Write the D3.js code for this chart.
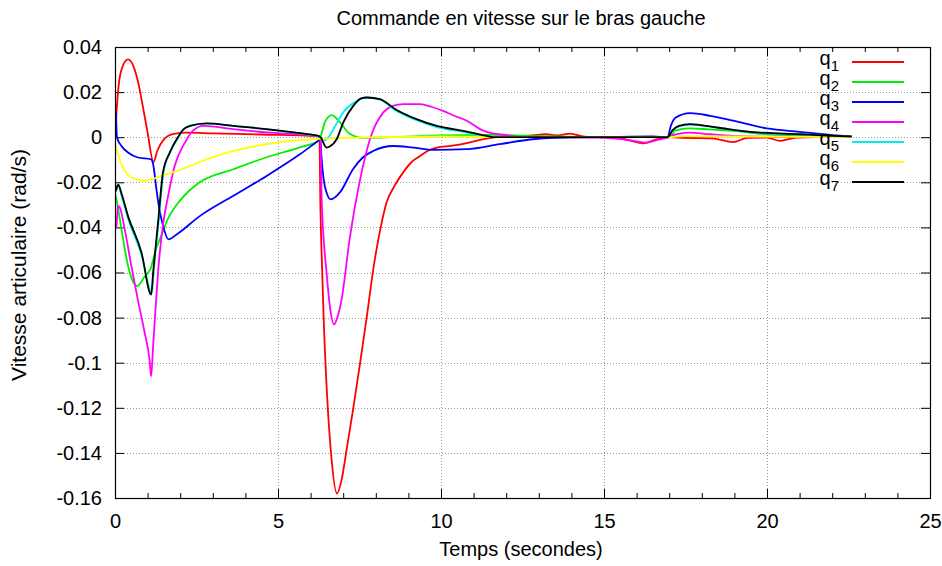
<!DOCTYPE html>
<html>
<head>
<meta charset="utf-8">
<script src="https://cdn.jsdelivr.net/npm/d3@7"></script>
<style>
  html, body { margin: 0; padding: 0; background: #fff; }
  svg { display: block; font-family: "Liberation Sans", Arial, Helvetica, sans-serif; }
</style>
</head>
<body>
<svg id="chart" width="942" height="566"></svg>
<script>
// Joint velocity commands on the left arm: [time (s), velocity (rad/s)]
const q1 = [[0,0.0],[0.05,0.012],[0.12,0.024],[0.25,0.032],[0.4,0.0345],[0.55,0.032],[0.7,0.025],[0.85,0.014],[1.0,0.002],[1.18,-0.011],[1.3,-0.006],[1.5,-0.001],[1.8,0.0015],[2.2,0.002],[3.0,0.0017],[4.5,0.0012],[6.2,0.0005],[6.27,0.0],[6.3,-0.03],[6.35,-0.057],[6.4,-0.08],[6.5,-0.113],[6.62,-0.139],[6.81,-0.158],[6.95,-0.152],[7.1,-0.139],[7.3,-0.121],[7.52,-0.1],[7.72,-0.08],[7.95,-0.056],[8.15,-0.04],[8.33,-0.029],[8.6,-0.021],[8.84,-0.0156],[9.1,-0.011],[9.36,-0.0083],[9.6,-0.006],[9.87,-0.0046],[10.3,-0.0038],[10.68,-0.003],[11.2,-0.0012],[11.7,0.0],[12.3,0.0005],[12.8,0.0008],[13.2,0.0013],[13.6,0.0008],[13.96,0.0016],[14.4,0.0002],[15,0.0],[15.6,-0.0008],[16.2,-0.0027],[16.6,-0.001],[16.9,0.0],[17.5,-0.0003],[18.3,-0.0005],[18.96,-0.0022],[19.4,-0.0003],[20.0,-0.0002],[20.4,-0.0016],[20.9,-0.0002],[21.5,0.0],[22.6,0.0]];
const q2 = [[0,-0.025],[0.05,-0.028],[0.2,-0.041],[0.4,-0.057],[0.55,-0.064],[0.68,-0.066],[0.9,-0.062],[1.1,-0.058],[1.25,-0.05],[1.41,-0.044],[1.63,-0.036],[2.0,-0.028],[2.6,-0.02],[3.63,-0.0142],[4.65,-0.0089],[5.67,-0.0045],[6.25,-0.0015],[6.3,0.0],[6.45,0.007],[6.65,0.0098],[6.85,0.0075],[7.2,0.0015],[7.6,-0.0003],[8.5,0.0],[10,0.0008],[11.5,0.001],[13,0.0005],[15,0.0],[17,0.0],[17.2,0.003],[17.6,0.0039],[18.2,0.0035],[18.96,0.0028],[20,0.0013],[21,0.0008],[22,0.0003],[22.6,0.0]];
const q3 = [[0.03,0.011],[0.06,0.0],[0.2,-0.0039],[0.4,-0.0068],[0.7,-0.009],[1.11,-0.0098],[1.17,-0.012],[1.27,-0.023],[1.35,-0.031],[1.47,-0.039],[1.64,-0.0453],[1.9,-0.043],[2.6,-0.035],[3.63,-0.026],[4.65,-0.0172],[5.67,-0.0076],[6.25,-0.0015],[6.3,-0.001],[6.33,-0.008],[6.4,-0.0187],[6.5,-0.025],[6.62,-0.0276],[6.9,-0.0245],[7.3,-0.0142],[7.6,-0.009],[7.92,-0.0061],[8.53,-0.0039],[9.15,-0.0046],[9.76,-0.0056],[10.8,-0.0053],[11.8,-0.0031],[12.8,-0.0009],[13.5,-0.0003],[15,0.0],[16.5,0.0003],[16.95,0.0],[17.05,0.005],[17.2,0.0087],[17.64,0.0107],[18.25,0.0095],[18.96,0.0073],[20,0.0039],[21,0.0024],[22,0.0009],[22.6,0.0003]];
const q4 = [[0,-0.03],[0.01,-0.04],[0.05,-0.04],[0.08,-0.0305],[0.14,-0.031],[0.3,-0.041],[0.5,-0.057],[0.7,-0.072],[0.91,-0.0867],[1.06,-0.0987],[1.11,-0.106],[1.16,-0.095],[1.22,-0.081],[1.32,-0.06],[1.47,-0.039],[1.63,-0.026],[1.83,-0.0128],[2.14,-0.0025],[2.4,0.003],[2.71,0.005],[3.63,0.0036],[4.65,0.0021],[6.19,0.0006],[6.3,0.0],[6.34,-0.0276],[6.49,-0.06],[6.6,-0.076],[6.72,-0.083],[6.82,-0.08],[6.95,-0.072],[7.2,-0.045],[7.52,-0.0187],[7.82,-0.0009],[8.23,0.011],[8.5,0.0138],[8.84,0.0147],[9.36,0.0147],[9.7,0.0135],[10.06,0.0117],[10.4,0.0095],[10.79,0.0073],[11.2,0.0036],[11.4,0.0024],[12,0.0009],[12.5,0.0],[14,0.0],[15.3,-0.0005],[15.9,-0.0016],[16.3,-0.0024],[16.7,-0.001],[17.0,0.0],[17.2,0.0013],[17.6,0.002],[18.25,0.0013],[18.96,0.0006],[20,0.0002],[22.6,0.0]];
const q5 = [[0,-0.014],[0.01,-0.024],[0.1,-0.021],[0.2,-0.026],[0.4,-0.036],[0.81,-0.052],[1.13,-0.069],[1.19,-0.059],[1.34,-0.037],[1.49,-0.0155],[1.7,-0.0065],[1.95,0.0],[2.1,0.0035],[2.3,0.005],[2.81,0.006],[3.63,0.005],[4.65,0.0035],[5.67,0.0017],[6.24,0.0005],[6.3,0.0],[6.4,-0.0015],[6.55,0.0],[6.7,0.0036],[7.0,0.011],[7.41,0.016],[7.72,0.0176],[8.13,0.0166],[8.6,0.012],[9.25,0.0075],[9.87,0.0045],[10.68,0.0024],[11.4,0.0004],[11.6,0.0],[13,0.0],[16.95,0.0],[17.1,0.003],[17.3,0.0048],[17.64,0.0056],[18.46,0.0042],[19.48,0.0023],[21,0.0012],[22,0.0005],[22.6,0.0002]];
const q6 = [[0,-0.003],[0.2,-0.012],[0.5,-0.0179],[0.91,-0.0194],[1.42,-0.0172],[2.0,-0.0145],[2.6,-0.011],[3.63,-0.0061],[4.65,-0.0031],[5.67,-0.0013],[6.3,-0.0007],[7,-0.0003],[8,0.0],[10,0.0003],[13,0.0],[16.95,0.0],[17.5,0.0005],[19,0.0003],[22.6,0.0]];
const q7 = [[0,-0.0135],[0.01,-0.024],[0.1,-0.021],[0.2,-0.025],[0.4,-0.035],[0.81,-0.051],[1.11,-0.0698],[1.17,-0.06],[1.32,-0.038],[1.47,-0.0157],[1.68,-0.0068],[1.93,0.0],[2.1,0.0035],[2.3,0.005],[2.81,0.0061],[3.63,0.005],[4.65,0.0036],[5.67,0.0018],[6.24,0.0006],[6.3,0.0],[6.49,-0.0046],[6.6,-0.004],[6.8,-0.0009],[7.0,0.0065],[7.31,0.0139],[7.55,0.0172],[7.72,0.0176],[8.13,0.0169],[8.6,0.0124],[9.25,0.008],[9.87,0.005],[10.68,0.0028],[11.4,0.0006],[11.6,0.0],[13,0.0],[15,0.0],[16.95,0.0],[17.1,0.003],[17.3,0.005],[17.64,0.0058],[18.46,0.0043],[19.48,0.0024],[21,0.0013],[22,0.0006],[22.6,0.0003]];

const seriesNames = ["1", "2", "3", "4", "5", "6", "7"];
const seriesData = [q1, q2, q3, q4, q5, q6, q7];
const seriesColors = ["#ff0000", "#00ee00", "#0000ff", "#ff00ff", "#00eeee", "#ffff00", "#000000"];

const xTicks = [0, 5, 10, 15, 20, 25];
const xMinorTicks = d3.range(0, 26, 1);
const yTicks = [0.04, 0.02, 0, -0.02, -0.04, -0.06, -0.08, -0.1, -0.12, -0.14, -0.16];

const titleText = "Commande en vitesse sur le bras gauche";
const xLabel = "Temps (secondes)";
const yLabel = "Vitesse articulaire (rad/s)";

// Layout
const svg = d3.select("#chart");
const plot = { left: 115, right: 930, top: 47, bottom: 498 };

const x = d3.scaleLinear().domain([0, 25]).range([plot.left, plot.right]);
const y = d3.scaleLinear().domain([-0.16, 0.04]).range([plot.bottom, plot.top]);

// Plain ASCII hyphen for negatives, shortest decimal form
const fmtY = v => (Math.abs(v) < 1e-9 ? "0" : String(+v.toFixed(2)));

// Grid
const grid = svg.append("g").attr("stroke", "#9a9a9a").attr("stroke-width", 1).attr("stroke-dasharray", "1,2");
grid.selectAll("line.gx").data(xTicks.slice(1, -1)).join("line")
  .attr("x1", d => Math.round(x(d)) + 0.5).attr("x2", d => Math.round(x(d)) + 0.5)
  .attr("y1", plot.top).attr("y2", plot.bottom);
grid.selectAll("line.gy").data(yTicks.slice(1, -1)).join("line")
  .attr("y1", d => Math.round(y(d)) + 0.5).attr("y2", d => Math.round(y(d)) + 0.5)
  .attr("x1", plot.left).attr("x2", plot.right);

// Axes via d3 axis generators (ticks pointing inward)
const fontSize = 20;
const axB = svg.append("g").attr("transform", `translate(0,${plot.bottom})`)
  .call(d3.axisBottom(x).tickValues(xTicks).tickSize(-9).tickPadding(16).tickFormat(d3.format("d")));
const axBm = svg.append("g").attr("transform", `translate(0,${plot.bottom})`)
  .call(d3.axisBottom(x).tickValues(xMinorTicks.filter(d => d % 5 !== 0)).tickSize(-5).tickFormat(""));
const axT = svg.append("g").attr("transform", `translate(0,${plot.top})`)
  .call(d3.axisTop(x).tickValues(xTicks).tickSize(-9).tickFormat(""));
const axTm = svg.append("g").attr("transform", `translate(0,${plot.top})`)
  .call(d3.axisTop(x).tickValues(xMinorTicks.filter(d => d % 5 !== 0)).tickSize(-5).tickFormat(""));
const axL = svg.append("g").attr("transform", `translate(${plot.left},0)`)
  .call(d3.axisLeft(y).tickValues(yTicks).tickSize(-9).tickPadding(13).tickFormat(fmtY));
const axR = svg.append("g").attr("transform", `translate(${plot.right},0)`)
  .call(d3.axisRight(y).tickValues(yTicks).tickSize(-9).tickFormat(""));

[axB, axBm, axT, axTm, axL, axR].forEach(g => {
  g.select(".domain").remove();
  g.selectAll(".tick line").attr("stroke", "#000").attr("stroke-width", 1);
  g.selectAll("text").attr("fill", "#000").attr("font-size", fontSize)
    .attr("font-family", "Liberation Sans, Arial, sans-serif");
});

// Clip series to the plotting area
svg.append("clipPath").attr("id", "plotClip").append("rect")
  .attr("x", plot.left).attr("y", plot.top)
  .attr("width", plot.right - plot.left).attr("height", plot.bottom - plot.top);

const line = d3.line().x(d => x(d[0])).y(d => y(d[1])).curve(d3.curveMonotoneX);

const curves = svg.append("g").attr("clip-path", "url(#plotClip)");
seriesData.forEach((data, i) => {
  curves.append("path").datum(data)
    .attr("fill", "none")
    .attr("stroke", seriesColors[i])
    .attr("stroke-width", 1.8)
    .attr("stroke-linejoin", "round")
    .attr("d", line);
});

// Frame
svg.append("rect")
  .attr("x", plot.left + 0.5).attr("y", plot.top + 0.5)
  .attr("width", plot.right - plot.left).attr("height", plot.bottom - plot.top)
  .attr("fill", "none").attr("stroke", "#000").attr("stroke-width", 1.2);

// Legend
const legend = svg.append("g");
seriesNames.forEach((name, i) => {
  const ly = 62 + i * 20;
  const t = legend.append("text")
    .attr("x", 839).attr("y", ly + 3)
    .attr("text-anchor", "end")
    .attr("font-size", 20).attr("fill", "#000");
  t.append("tspan").text("q");
  t.append("tspan").attr("dy", 6).attr("font-size", 15).text(name);
  legend.append("line")
    .attr("x1", 852).attr("x2", 904)
    .attr("y1", ly).attr("y2", ly)
    .attr("stroke", seriesColors[i]).attr("stroke-width", 1.8);
});

// Titles
svg.append("text").attr("x", 521).attr("y", 25).attr("text-anchor", "middle")
  .attr("font-size", 20).attr("fill", "#000").text(titleText);
svg.append("text").attr("x", 521).attr("y", 556).attr("text-anchor", "middle")
  .attr("font-size", 20).attr("fill", "#000").text(xLabel);
svg.append("text").attr("transform", "translate(26,265) rotate(-90)").attr("text-anchor", "middle")
  .attr("font-size", 21).attr("fill", "#000").text(yLabel);
</script>
</body>
</html>
